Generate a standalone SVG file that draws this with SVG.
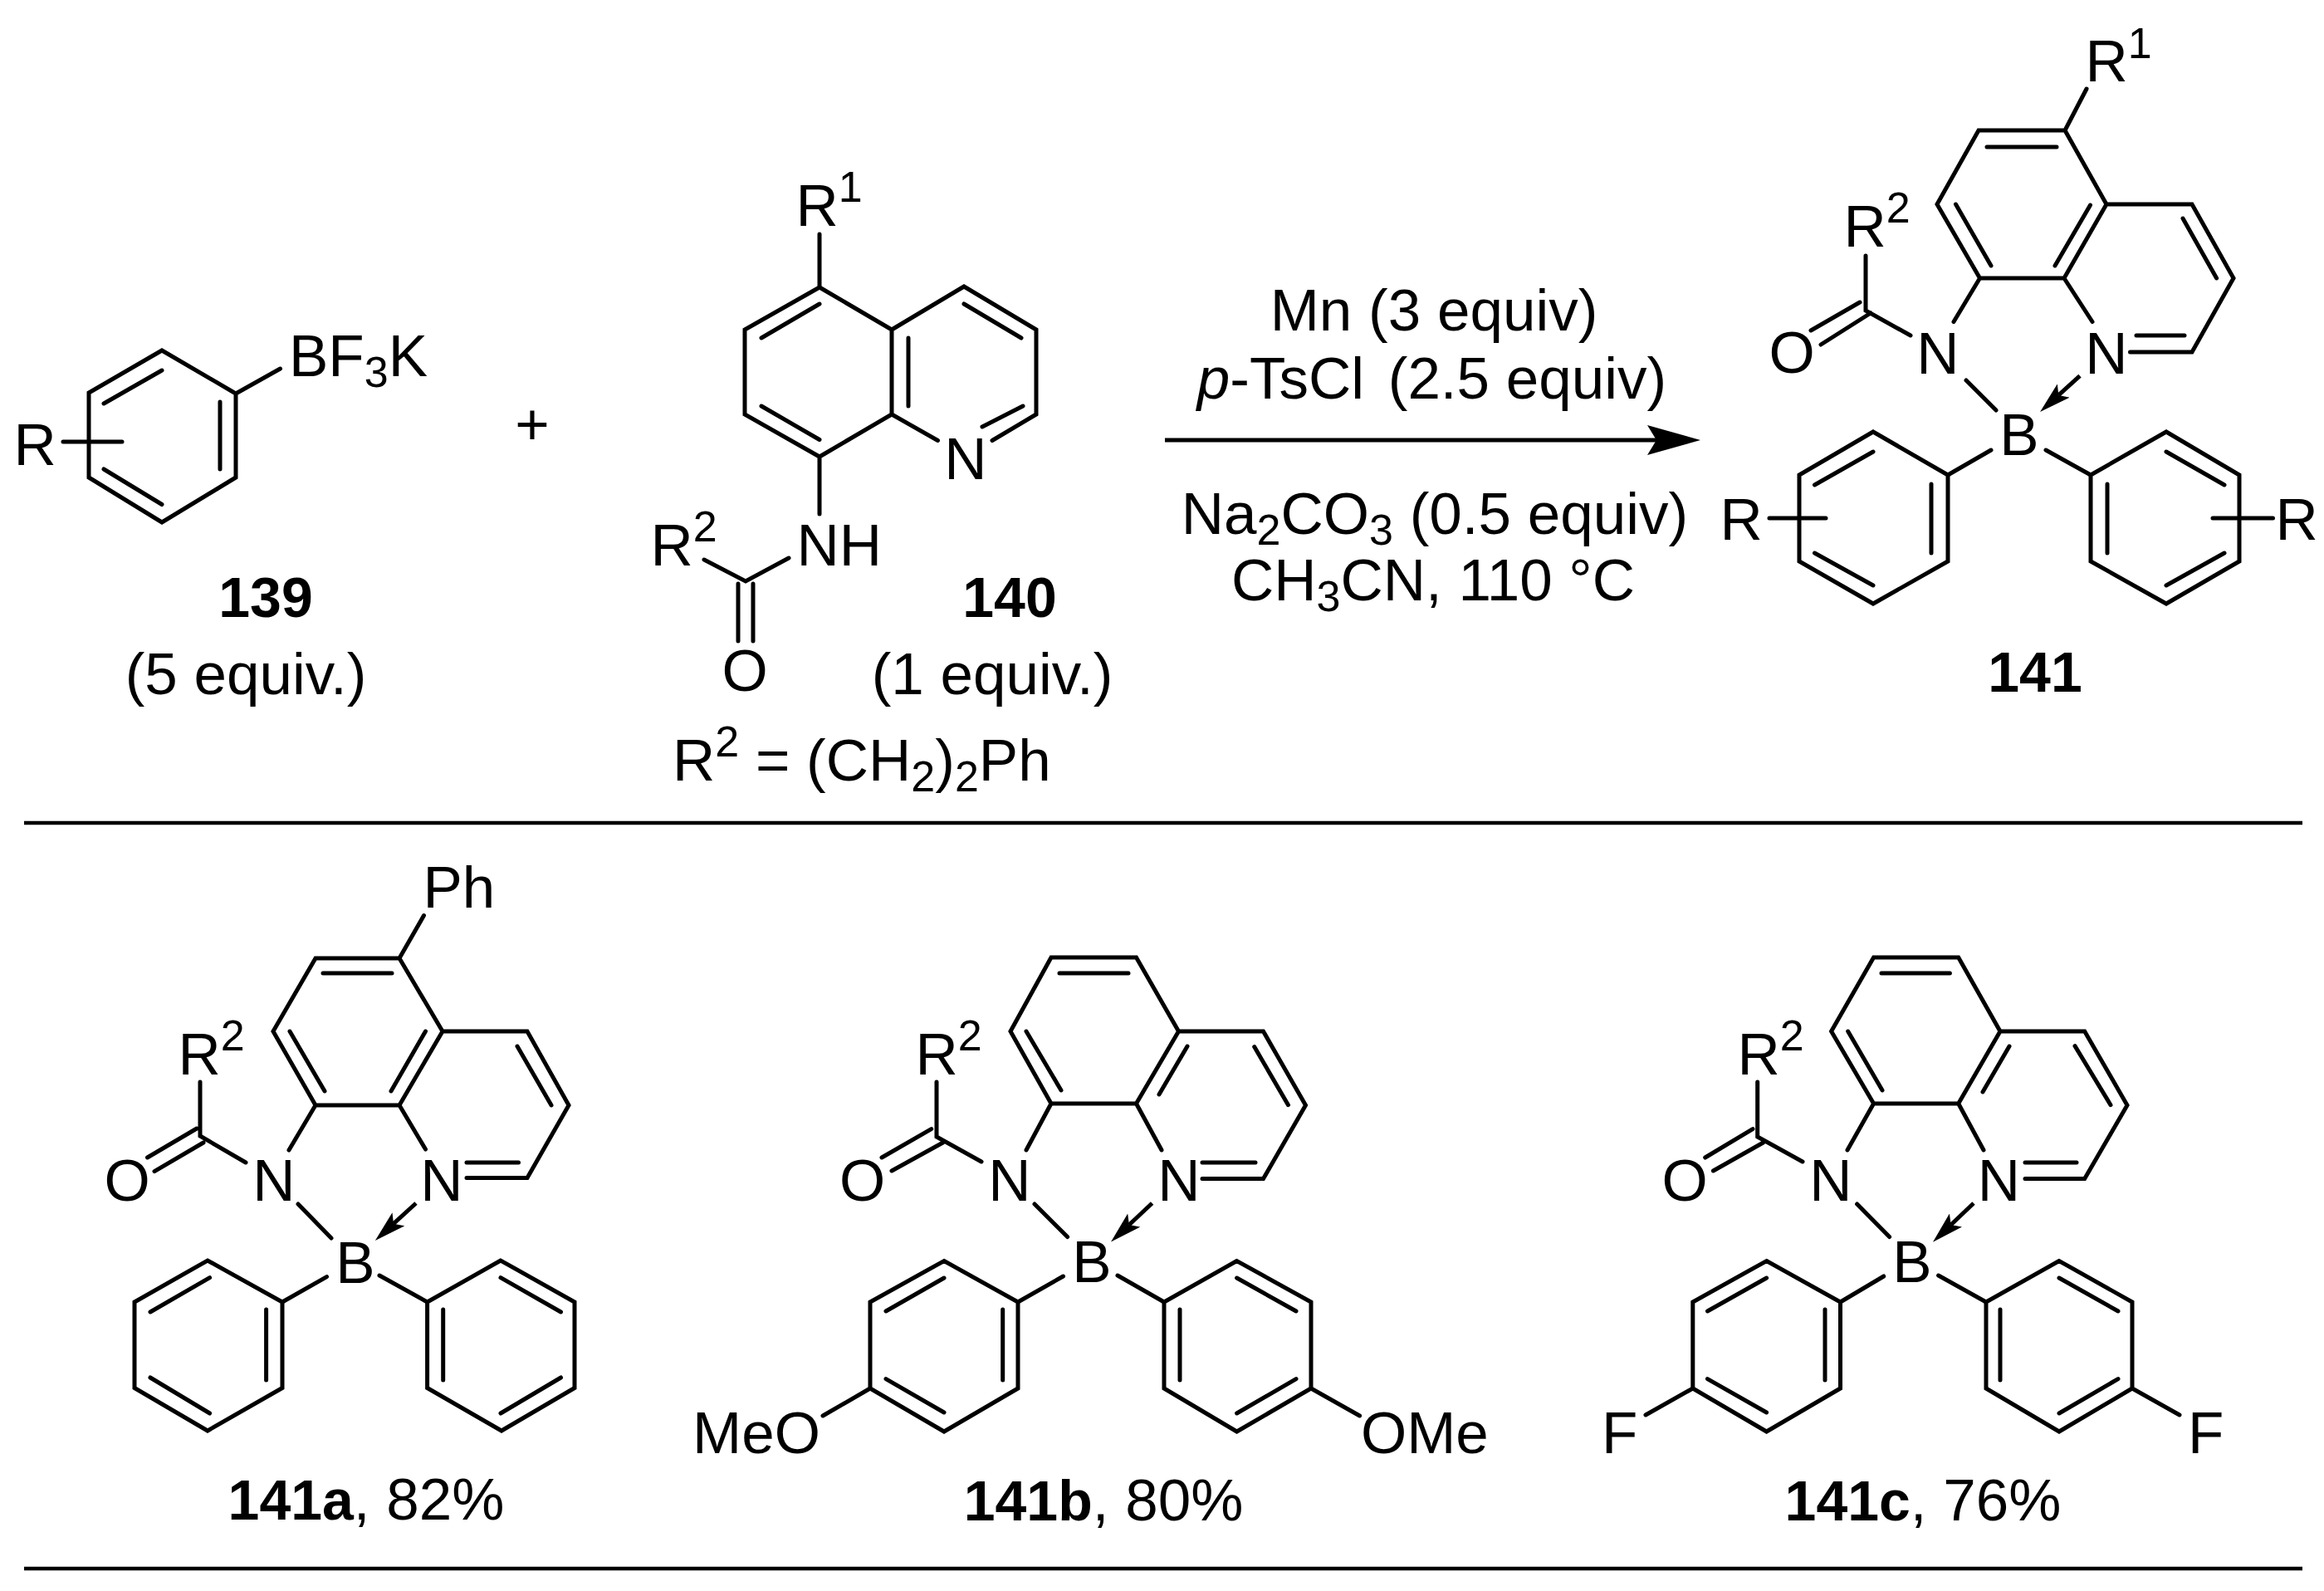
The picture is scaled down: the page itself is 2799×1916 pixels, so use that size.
<svg xmlns="http://www.w3.org/2000/svg" width="2799" height="1916" viewBox="0 0 2799 1916">
<style>
text{font-family:"Liberation Sans",Arial,sans-serif;font-size:71px;fill:#000}
.m{text-anchor:middle}
.e{font-weight:700;font-size:68px}
.s{font-size:52px}
.b{fill:none;stroke:#000;stroke-width:5;stroke-linejoin:miter;stroke-linecap:round}
.a{fill:none;stroke:#000;stroke-width:5}
.r{fill:none;stroke:#000;stroke-width:4.5}
.d{marker-end:url(#dative)}
</style>
<defs>
<marker id="head" markerUnits="userSpaceOnUse" markerWidth="64" markerHeight="36" refX="11" refY="18" orient="auto"><path d="M64,18 L0,0 L11,18 L0,36Z" fill="#000"/></marker>
<marker id="dative" markerUnits="userSpaceOnUse" markerWidth="38" markerHeight="22" refX="8" refY="11" orient="auto"><path d="M38,11 L0,0 L8,11 L0,22Z" fill="#000"/></marker>
</defs>
<rect width="2799" height="1916" fill="#fff"/>

<g id="compound-139">
<path class="b" d="M195,422L284,474V575L195,629L107,575V473ZM284,474L337.5,444M125,486L195,446M265,484V565M125,565L195,607.5M76,532H147"/>
<text x="348" y="453">BF<tspan class="s" dy="13">3</tspan><tspan dy="-13">K</tspan></text>
<text x="16.5" y="560">R</text>
<text class="m e" x="320" y="743">139</text>
<text class="m" x="296" y="836">(5 equiv.)</text>
</g>

<g id="plus"><text class="m" x="641" y="535">+</text></g>

<g id="compound-140">
<path class="b" d="M987,346L897,397V499L987,550L1074,499V397ZM1074,397L1161,345L1248,397V499L1195,530.5M1074,499L1129.5,530.5M987,282V346M917,407L987,366M917,489L987,529.5M1094,407V489M1161,366L1230,407M1232,489L1183,514M987,550V619M848,674L898,700L950,672M889,703V772M907,703V772"/>
<text x="958.5" y="272">R<tspan class="s" dy="-29">1</tspan></text>
<text class="m" x="1163" y="577">N</text>
<text x="959.6" y="681">NH</text>
<text x="783.5" y="681">R<tspan class="s" dy="-29">2</tspan></text>
<text class="m" x="897" y="832">O</text>
<text class="m e" x="1216" y="743">140</text>
<text class="m" x="1195" y="836">(1 equiv.)</text>
<text x="810" y="940">R<tspan class="s" dy="-29">2</tspan><tspan dy="29"> = (CH</tspan><tspan class="s" dy="13">2</tspan><tspan dy="-13">)</tspan><tspan class="s" dy="13">2</tspan><tspan dy="-13">Ph</tspan></text>
</g>

<g id="connectors">
<line x1="1403" y1="530" x2="1995" y2="530" class="a" marker-end="url(#head)"/>
</g>

<g id="conditions">
<text class="m" x="1727" y="398">Mn (3 equiv)</text>
<text class="m" x="1724.5" y="480"><tspan font-style="italic">p</tspan>-TsCl <tspan dx="9">(2.5 equiv)</tspan></text>
<text class="m" x="1728" y="643">Na<tspan class="s" dy="13">2</tspan><tspan dy="-13">CO</tspan><tspan class="s" dy="13">3</tspan><tspan dy="-13"> (0.5 equiv)</tspan></text>
<text class="m" x="1726" y="723">CH<tspan class="s" dy="13">3</tspan><tspan dy="-13">CN, 110 °C</tspan></text>
</g>

<g id="compound-141">
<path class="b" d="M2487,157H2383L2333,246L2384.5,335H2486L2537,246ZM2513,107L2487,157M2537,246H2640L2690,335L2640,424H2565.5M2393,177H2477M2355.5,246L2398,320M2475,320L2517.5,247M2629,263L2669.6,335M2573,404H2631M2486,335L2520,387.5M2384.5,335L2353,387.5M2247,308V374L2301,404M2240,364L2181,398M2253,377L2193,415M2368,458L2404,494M2398,542L2346,572M2464,542L2518,572"/>
<path class="b" d="M2256,520L2346,572V676L2256,727L2167,676V572ZM2185.5,584L2256,544M2326,583V666M2185.5,666L2256,705M2131,624H2199"/>
<path class="b" d="M2609,520L2518,572V676L2609,727L2697,676V572ZM2538,583V666M2609,544L2679,584M2609,705L2679,666M2665,624H2737.5"/>
<line class="a d" x1="2505" y1="452.6" x2="2479.3" y2="475.9"/>
<text x="2511.5" y="98">R<tspan class="s" dy="-28">1</tspan></text>
<text x="2220.5" y="297">R<tspan class="s" dy="-29">2</tspan></text>
<text class="m" x="2158" y="449">O</text>
<text class="m" x="2334" y="450">N</text>
<text class="m" x="2537" y="450">N</text>
<text class="m" x="2432" y="548">B</text>
<text x="2071.5" y="650">R</text>
<text x="2740.5" y="650">R</text>
<text class="m e" x="2451" y="833">141</text>
</g>

<g id="compound-141a">
<path class="b" d="M481,1154H380L329,1242L380,1331H481L533,1242ZM510.5,1102.5L481,1154M533,1242H635L685,1331L635,1418.5H562M389,1172H472M349,1242L391,1314M471,1314L512.5,1242M623,1260L664,1331M562,1400H624.5M481,1331L512.5,1384M380,1331L348,1385M241,1303V1368L296,1400M237,1359L177.5,1394M245,1376L186,1410.6M359,1450L399,1491M393.5,1537.6L340,1568M457,1536L514.6,1568"/>
<path class="b" d="M250,1518L340,1568V1671.5L250,1723L162,1671.5V1568ZM181,1580L252.6,1538.7M320.6,1577V1662M181,1659L252.6,1702"/>
<path class="b" d="M603,1518L514.6,1568V1671.5L604,1723L692,1671.5V1568ZM533.7,1577V1662M603,1538.7L675.5,1580M603,1702L675.5,1659"/>
<line class="a d" x1="501" y1="1449" x2="474" y2="1473.7"/>
<text x="509.5" y="1093">Ph</text>
<text x="214.5" y="1294">R<tspan class="s" dy="-29">2</tspan></text>
<text class="m" x="153" y="1446">O</text>
<text class="m" x="330" y="1446">N</text>
<text class="m" x="532" y="1446">N</text>
<text class="m" x="428" y="1545">B</text>
<text class="m" x="441" y="1830"><tspan class="e">141a</tspan>, 82%</text>
</g>

<g id="compound-141b">
<path class="b" d="M1368.5,1153H1266L1217,1242L1266,1329H1368.5L1419.5,1242ZM1419.5,1242H1521.5L1572.5,1331L1521.5,1419.5H1448M1276,1172H1359M1236,1242L1278,1313M1396,1318L1430,1260M1510.7,1260.6L1551.5,1330.7M1448,1400H1512M1368.5,1329L1399,1385M1266,1329L1236,1385M1128,1303V1369L1182,1399M1121.7,1359.6L1062,1394M1135.7,1376L1074,1410M1246,1450L1285.6,1489.5M1280.5,1537L1226,1568M1346,1536L1402,1568"/>
<path class="b" d="M1137,1518.5L1226,1568V1672L1137,1724L1048,1672V1568ZM1067,1579L1137,1539M1207.7,1577V1662M1067,1660.6L1137,1701M1048,1672L991,1705"/>
<path class="b" d="M1489.6,1518.5L1402,1568V1672L1489.6,1724L1579,1672V1568ZM1421,1577V1662M1489.6,1539L1561,1579M1489.6,1702L1561,1660.6M1579,1672L1637.6,1705"/>
<line class="a d" x1="1387.6" y1="1449" x2="1359.9" y2="1475"/>
<text x="1102.5" y="1294">R<tspan class="s" dy="-29">2</tspan></text>
<text class="m" x="1038.5" y="1446">O</text>
<text class="m" x="1216" y="1446">N</text>
<text class="m" x="1420" y="1446">N</text>
<text class="m" x="1315" y="1544">B</text>
<text x="834" y="1749.5">MeO</text>
<text x="1639" y="1749.5">OMe</text>
<text class="m" x="1329" y="1831"><tspan class="e">141b</tspan>, 80%</text>
</g>

<g id="compound-141c">
<path class="b" d="M2358.7,1153H2256.6L2205.6,1242L2256.6,1329H2358.7L2409,1242ZM2409,1242H2510.7L2562,1331L2510.7,1419.5H2439M2266,1172H2348.4M2225.7,1242L2267,1313M2388,1315L2420,1260M2499,1259.6L2542,1330.7M2439,1400H2501M2358.7,1329L2389,1385M2256.6,1329L2225,1385M2116.7,1303V1369L2171,1399M2111,1359.6L2053.7,1394M2123.6,1376L2063.4,1410M2236.6,1450L2275.6,1489.5M2268.7,1537L2216.5,1568M2334.6,1536L2392,1568"/>
<path class="b" d="M2127.6,1518.5L2216.5,1568V1672L2127.6,1724L2038.8,1672V1568ZM2056.5,1579L2127.6,1539M2198,1577V1662M2056.5,1660.6L2127.6,1701M2038.8,1672L1982,1704"/>
<path class="b" d="M2480,1518.5L2392,1568V1672L2480,1724L2568,1672V1568ZM2409,1577V1662M2480,1539L2551,1579M2480,1702L2551,1660.6M2568,1672L2625,1704"/>
<line class="a d" x1="2377" y1="1449" x2="2349.7" y2="1475"/>
<text x="2092.5" y="1294">R<tspan class="s" dy="-29">2</tspan></text>
<text class="m" x="2029" y="1446">O</text>
<text class="m" x="2205" y="1446">N</text>
<text class="m" x="2407.5" y="1446">N</text>
<text class="m" x="2303" y="1544">B</text>
<text x="1929" y="1749.5">F</text>
<text x="2635" y="1749.5">F</text>
<text class="m" x="2316" y="1831"><tspan class="e">141c</tspan>, 76%</text>
</g>

<g id="rules">
<line class="r" x1="29" y1="991" x2="2773" y2="991"/>
<line class="r" x1="29" y1="1889" x2="2773" y2="1889"/>
</g>
</svg>
